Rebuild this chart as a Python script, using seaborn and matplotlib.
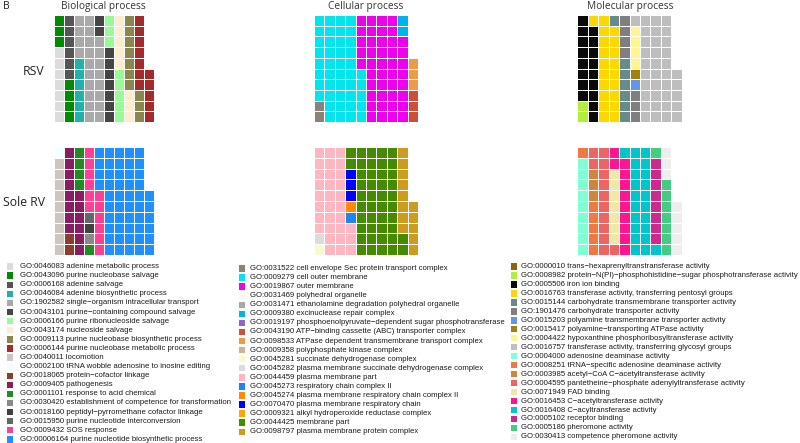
import numpy as np
import matplotlib
matplotlib.use("Agg")
import matplotlib.pyplot as plt
from matplotlib.colors import ListedColormap
from matplotlib.patches import Rectangle
import seaborn as sns

# ---------------- data ----------------
bio_terms = [
    "GO:0046083 adenine metabolic process",
    "GO:0043096 purine nucleobase salvage",
    "GO:0006168 adenine salvage",
    "GO:0046084 adenine biosynthetic process",
    "GO:1902582 single−organism intracellular transport",
    "GO:0043101 purine−containing compound salvage",
    "GO:0006166 purine ribonucleoside salvage",
    "GO:0043174 nucleoside salvage",
    "GO:0009113 purine nucleobase biosynthetic process",
    "GO:0006144 purine nucleobase metabolic process",
    "GO:0040011 locomotion",
    "GO:0002100 tRNA wobble adenosine to inosine editing",
    "GO:0018065 protein−cofactor linkage",
    "GO:0009405 pathogenesis",
    "GO:0001101 response to acid chemical",
    "GO:0030420 establishment of competence for transformation",
    "GO:0018160 peptidyl−pyrromethane cofactor linkage",
    "GO:0015950 purine nucleotide interconversion",
    "GO:0009432 SOS response",
    "GO:00006164 purine nucleotide biosynthetic process",
]
bio_rsv = [7, 7, 6, 6, 22, 9, 8, 8, 10, 12, 0, 0, 0, 0, 0, 0, 0, 0, 0, 0]
bio_sole = [0, 0, 0, 0, 0, 0, 0, 0, 0, 0, 9, 1, 2, 14, 5, 1, 1, 1, 12, 50]

cell_terms = [
    "GO:0031522 cell envelope Sec protein transport complex",
    "GO:0009279 cell outer membrane",
    "GO:0019867 outer membrane",
    "GO:0031469 polyhedral organelle",
    "GO:0031471 ethanolamine degradation polyhedral organelle",
    "GO:0009380 excinuclease repair complex",
    "GO:0019197 phosphoenolpyruvate−dependent sugar phosphotransferase",
    "GO:0043190 ATP−binding cassette (ABC) transporter complex",
    "GO:0098533 ATPase dependent transmembrane transport complex",
    "GO:0009358 polyphosphate kinase complex",
    "GO:0045281 succinate dehydrogenase complex",
    "GO:0045282 plasma membrane succinate dehydrogenase complex",
    "GO:0044459 plasma membrane part",
    "GO:0045273 respiratory chain complex II",
    "GO:0045274 plasma membrane respiratory chain complex II",
    "GO:0070470 plasma membrane respiratory chain",
    "GO:0009321 alkyl hydroperoxide reductase complex",
    "GO:0044425 membrane part",
    "GO:0098797 plasma membrane protein complex",
]
cell_rsv = [2, 43, 43, 0, 0, 2, 0, 3, 3, 0, 0, 0, 0, 0, 0, 0, 0, 0, 0]
cell_sole = [0, 0, 0, 0, 0, 0, 0, 0, 0, 0, 1, 1, 31, 1, 1, 3, 0, 44, 13]

mol_terms = [
    "GO:0000010 trans−hexaprenyltranstransferase activity",
    "GO:0008982 protein−N(PI)−phosphohistidine−sugar phosphotransferase activity",
    "GO:0005506 iron ion binding",
    "GO:0016763 transferase activity, transferring pentosyl groups",
    "GO:0015144 carbohydrate transmembrane transporter activity",
    "GO:1901476 carbohydrate transporter activity",
    "GO:0015203 polyamine transmembrane transporter activity",
    "GO:0015417 polyamine−transporting ATPase activity",
    "GO:0004422 hypoxanthine phosphoribosyltransferase activity",
    "GO:0016757 transferase activity, transferring glycosyl groups",
    "GO:0004000 adenosine deaminase activity",
    "GO:0008251 tRNA−specific adenosine deaminase activity",
    "GO:0003985 acetyl−CoA C−acetyltransferase activity",
    "GO:0004595 pantetheine−phosphate adenylyltransferase activity",
    "GO:0071949 FAD binding",
    "GO:0016453 C−acetyltransferase activity",
    "GO:0016408 C−acyltransferase activity",
    "GO:0005102 receptor binding",
    "GO:0005186 pheromone activity",
    "GO:0030413 competence pheromone activity",
]
mol_rsv = [0, 2, 17, 20, 7, 7, 1, 1, 4, 36, 0, 0, 0, 0, 0, 0, 0, 0, 0, 0]
mol_sole = [0, 0, 0, 0, 0, 0, 0, 0, 0, 0, 9, 6, 3, 13, 7, 11, 22, 8, 8, 8]

panel_titles = ["Biological process", "Cellular process", "Molecular process"]
row_labels = ["RSV", "Sole RV"]

# ---------------- styles ----------------
bio_colors = ["#DCDCDC", "#008B00", "#555555", "#20B2AA", "#A9A9A9", "#454545",
              "#98FB98", "#FFEBCD", "#8B864E", "#A52A2A", "#CDC5BF", "#F0FFFF",
              "#8B3E2F", "#8B1C62", "#228B22", "#8B8989", "#404040", "#666666",
              "#FF3E96", "#1E90FF"]
cell_colors = ["#8B8378", "#00E5EE", "#EE00EE", "#FFF5EE", "#A9A9A9", "#00B2EE",
               "#8968CD", "#CD4F39", "#EE9A49", "#D2B48C", "#FAFAD2", "#DCDCDC",
               "#FFB6C1", "#1C86EE", "#FF8C00", "#0000FF", "#FFA500", "#458B00",
               "#CD9B1D"]
mol_colors = ["#8B6508", "#B3EE3A", "#0A0A0A", "#FFD700", "#668B8B", "#7F7F7F",
              "#6495ED", "#A2810A", "#FFF68F", "#BEBEBE", "#7FFFD4", "#EE7942",
              "#CD853F", "#EE6363", "#EEE8AA", "#FF1493", "#00C5CD", "#CD2990",
              "#43CD80", "#EEEEEE"]

sns.set_theme(style="white")
plt.rcParams["font.family"] = ["Liberation Sans", "DejaVu Sans"]

W, H = 800, 443
fig = plt.figure(figsize=(8, 4.43), dpi=100)


def waffle_matrix(counts, nrows=10, ncols=10):
    m = np.full((nrows, ncols), np.nan)
    k = 0
    for cat, n in enumerate(counts):
        for _ in range(n):
            c = k // nrows
            r = nrows - 1 - (k % nrows)
            m[r, c] = cat
            k += 1
    return m


def px_axes(x0, y0, x1, y1):
    return fig.add_axes([x0 / W, 1 - y1 / H, (x1 - x0) / W, (y1 - y0) / H])


panels = [
    (bio_rsv, bio_sole, bio_colors, 54, 154),
    (cell_rsv, cell_sole, cell_colors, 314, 418),
    (mol_rsv, mol_sole, mol_colors, 577, 682),
]
row_y = [(15, 122), (147, 255)]

for (rsv, sole, cols, x0, x1) in panels:
    cmap = ListedColormap(cols)
    for counts, (y0, y1) in zip([rsv, sole], row_y):
        ax = px_axes(x0, y0, x1, y1)
        m = waffle_matrix(counts)
        sns.heatmap(m, cmap=cmap, vmin=-0.5, vmax=len(cols) - 0.5, cbar=False,
                    linewidths=0.7, linecolor="white", xticklabels=False,
                    yticklabels=False, ax=ax)
        ax.set_facecolor("white")
        for s in ax.spines.values():
            s.set_visible(False)

# overlay for text & legends
ov = fig.add_axes([0, 0, 1, 1], facecolor="none")
ov.set_xlim(0, W)
ov.set_ylim(H, 0)
ov.axis("off")

tfont = ["Open Sans", "DejaVu Sans"]
ov.text(3, 6, "B", fontsize=7.5, va="center", ha="left", color="#222222", family=tfont)
for t, cx in zip(panel_titles, [103, 366, 630]):
    ov.text(cx, 6, t, fontsize=7.3, va="center", ha="center", color="#333333", family=tfont)
ov.text(44, 71, row_labels[0], fontsize=8.8, va="center", ha="right", color="#222222", family=tfont)
ov.text(45, 202, row_labels[1], fontsize=8.8, va="center", ha="right", color="#222222", family=tfont)

legends = [
    (bio_terms, bio_colors, 7, 20, 266.5, 9.1),
    (cell_terms, cell_colors, 239, 250, 268.5, 9.07),
    (mol_terms, mol_colors, 510.5, 521, 266.5, 8.97),
]
for terms, cols, sx, tx, y0, dy in legends:
    for i, (lab, col) in enumerate(zip(terms, cols)):
        y = y0 + i * dy
        ov.add_patch(Rectangle((sx, y - 3.2), 6.4, 6.4, facecolor=col, edgecolor="none"))
        ov.text(tx, y, lab, fontsize=5.6, va="center", ha="left", color="#1a1a1a")

fig.savefig("out.png", dpi=100)
